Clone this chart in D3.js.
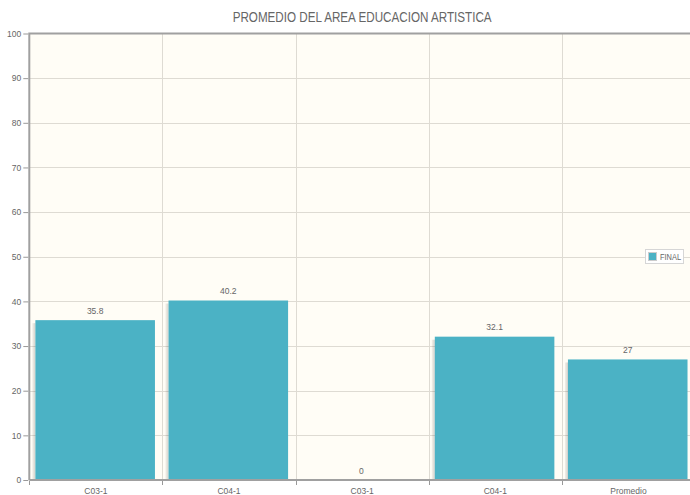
<!DOCTYPE html>
<html>
<head>
<meta charset="utf-8">
<script src="https://cdn.jsdelivr.net/npm/d3@7/dist/d3.min.js"></script>
<style>
  html, body { margin: 0; padding: 0; background: #ffffff; }
  svg { display: block; }
  text { font-family: "Liberation Sans", Arial, sans-serif; fill: #666666; }
</style>
</head>
<body>
<svg id="chart" width="690" height="495"></svg>
<script>
const title = "PROMEDIO DEL AREA EDUCACION ARTISTICA";
const categories = ["C03-1", "C04-1", "C03-1", "C04-1", "Promedio"];
const values = [35.8, 40.2, 0, 32.1, 27];
const seriesName = "FINAL";
const yTicks = [0, 10, 20, 30, 40, 50, 60, 70, 80, 90, 100];

const plot = { left: 29.3, right: 695, top: 33.5, bottom: 480 };
const barColor = "#4bb2c5";

const svg = d3.select("#chart");

const x = d3.scaleBand()
  .domain(d3.range(categories.length))
  .range([plot.left, plot.right])
  .paddingInner(0.102).paddingOuter(0.051);
const xOuter = d3.scaleBand()
  .domain(d3.range(categories.length))
  .range([plot.left, plot.right]);
const y = d3.scaleLinear().domain([0, 100]).range([plot.bottom, plot.top]);
const shift = -0.7;

// background
svg.append("rect")
  .attr("x", plot.left).attr("y", plot.top)
  .attr("width", plot.right - plot.left).attr("height", plot.bottom - plot.top)
  .attr("fill", "#fffdf6");

// horizontal grid lines
svg.append("g").selectAll("line").data(yTicks.filter(d => d > 0 && d < 100)).join("line")
  .attr("x1", plot.left).attr("x2", plot.right)
  .attr("y1", d => Math.round(y(d)) + 0.5).attr("y2", d => Math.round(y(d)) + 0.5)
  .attr("stroke", "#dedbd3").attr("stroke-width", 1);

// vertical grid lines at band boundaries
const bounds = d3.range(1, categories.length).map(i => xOuter(i));
svg.append("g").selectAll("line").data(bounds).join("line")
  .attr("x1", d => Math.round(d) + 0.5).attr("x2", d => Math.round(d) + 0.5)
  .attr("y1", plot.top).attr("y2", plot.bottom)
  .attr("stroke", "#dedbd3").attr("stroke-width", 1);

// bar shadows
const shadow = svg.append("g");
[[1, 0.16], [2, 0.11], [3, 0.07]].forEach(([off, op]) => {
  shadow.selectAll(null).data(values).join("rect")
    .attr("x", (d, i) => x(i) + shift - off)
    .attr("y", d => y(d) + 3)
    .attr("width", 1)
    .attr("height", d => Math.max(0, plot.bottom - y(d) - 3))
    .attr("fill", "#000").attr("opacity", op);
});

// bars
svg.append("g").selectAll("rect").data(values).join("rect")
  .attr("x", (d, i) => x(i) + shift)
  .attr("y", d => y(d))
  .attr("width", x.bandwidth())
  .attr("height", d => plot.bottom - y(d))
  .attr("fill", barColor);

// value labels
svg.append("g").selectAll("text").data(values).join("text")
  .attr("x", (d, i) => x(i) + shift + x.bandwidth() / 2)
  .attr("y", d => y(d) - 6.5)
  .attr("text-anchor", "middle")
  .attr("font-size", "8.5px")
  .text(d => d);

// border
svg.append("path")
  .attr("d", `M${plot.left},${plot.bottom} V${plot.top} H${plot.right}`)
  .attr("fill", "none").attr("stroke", "#a0a0a0").attr("stroke-width", 2);
svg.append("line")
  .attr("x1", plot.left).attr("x2", plot.right)
  .attr("y1", plot.bottom).attr("y2", plot.bottom)
  .attr("stroke", "#a0a0a0").attr("stroke-width", 2);

// y axis
const yAxis = d3.axisLeft(y).tickValues(yTicks).tickSize(5).tickPadding(2);
const gy = svg.append("g").attr("transform", `translate(${plot.left - 1},0)`).call(yAxis);
gy.select(".domain").remove();
gy.selectAll(".tick line").attr("stroke", "#999");
gy.selectAll(".tick text").attr("font-size", "8.5px").attr("fill", "#666")
  .attr("font-family", "Liberation Sans, Arial, sans-serif");

// x axis labels
const xAxis = d3.axisBottom(xOuter).tickSize(0).tickPadding(7.5).tickFormat(i => categories[i]);
const gx = svg.append("g").attr("transform", `translate(0,${plot.bottom})`).call(xAxis);
gx.select(".domain").remove();
gx.selectAll(".tick text").attr("font-size", "8.5px").attr("fill", "#666")
  .attr("font-family", "Liberation Sans, Arial, sans-serif");
// x ticks at band boundaries
svg.append("g").selectAll("line").data([plot.left, ...bounds]).join("line")
  .attr("x1", d => Math.round(d) + 0.5).attr("x2", d => Math.round(d) + 0.5)
  .attr("y1", plot.bottom + 1).attr("y2", plot.bottom + 5)
  .attr("stroke", "#999");

// title
svg.append("text")
  .attr("x", (plot.left + plot.right) / 2).attr("y", 22)
  .attr("text-anchor", "middle")
  .attr("font-size", "14px")
  .attr("textLength", 259).attr("lengthAdjust", "spacingAndGlyphs")
  .text(title);

// legend
const lg = svg.append("g").attr("transform", "translate(645,249)");
lg.append("rect").attr("x", 0.5).attr("y", 0.5).attr("width", 38).attr("height", 14)
  .attr("fill", "#ffffff").attr("stroke", "#d6d6d6");
lg.append("rect").attr("x", 3.5).attr("y", 3.5).attr("width", 8).attr("height", 8)
  .attr("fill", barColor).attr("stroke", "#cccccc").attr("stroke-width", 1);
lg.append("text").attr("x", 15).attr("y", 10.5).attr("font-size", "8.5px")
  .attr("textLength", 21).attr("lengthAdjust", "spacingAndGlyphs").text(seriesName);
</script>
</body>
</html>
